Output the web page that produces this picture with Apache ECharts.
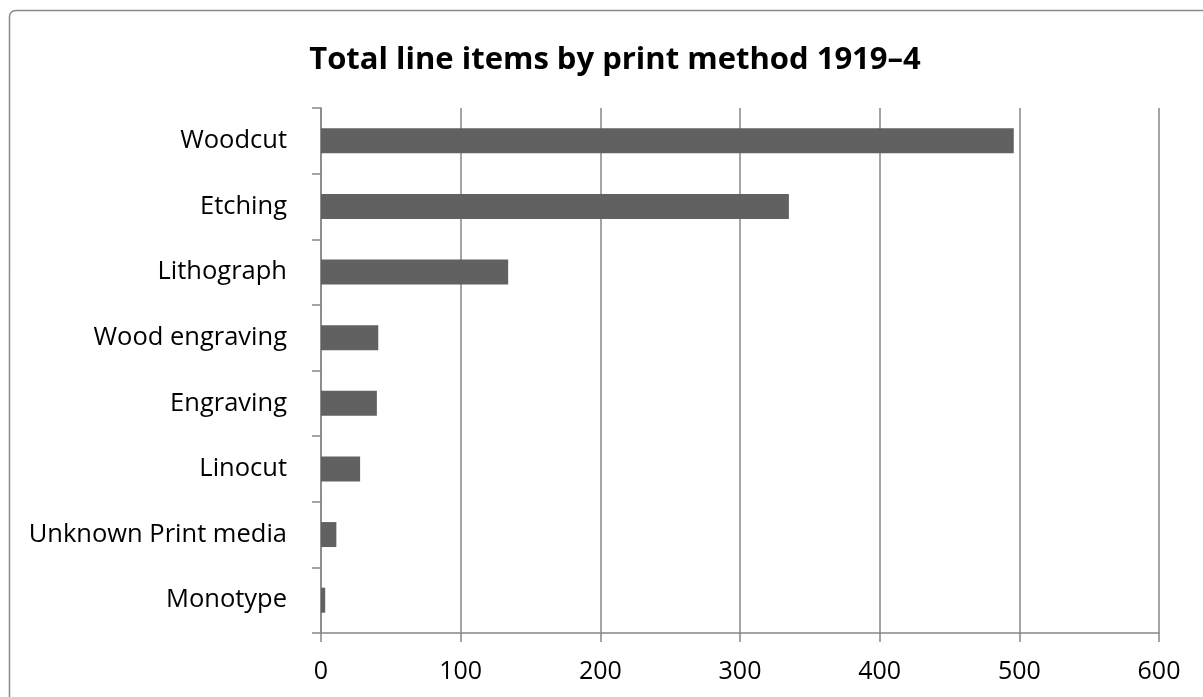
<!DOCTYPE html>
<html>
<head>
<meta charset="utf-8">
<script src="https://cdn.jsdelivr.net/npm/echarts@6/dist/echarts.min.js"></script>
<style>
html,body{margin:0;padding:0;background:#fff;}
#chart{width:1203px;height:697px;}
</style>
</head>
<body>
<div id="chart"></div>
<script>
const titleText = 'Total line items by print method 1919–4';
const categories = ['Woodcut','Etching','Lithograph','Wood engraving','Engraving','Linocut','Unknown Print media','Monotype'];
const values = [496, 335, 134, 41, 40, 28, 11, 3];
const xTicks = [0, 100, 200, 300, 400, 500, 600];

const chart = echarts.init(document.getElementById('chart'), null, {renderer:'canvas'});
const font = '"Open Sans", sans-serif';
chart.setOption({
  animation: false,
  backgroundColor: '#ffffff',
  graphic: [{
    type: 'rect', silent: true, z: -1,
    shape: {x: 9.5, y: 10.5, width: 1400, height: 900, r: 6},
    style: {fill: 'none', stroke: '#8a8a8a', lineWidth: 1.5}
  }],
  title: {
    text: titleText,
    left: 610, top: 40, textAlign: 'center',
    textStyle: {fontFamily: font, fontWeight: 'bold', fontSize: 31, color: '#000'}
  },
  grid: {left: 321, right: 44, top: 108, bottom: 64, containLabel: false},
  xAxis: {
    type: 'value', min: xTicks[0], max: xTicks[xTicks.length-1], interval: 100,
    axisLine: {show: true, lineStyle: {color: '#868686', width: 1.5}},
    axisTick: {show: true, length: 9, lineStyle: {color: '#868686', width: 1.5}},
    axisLabel: {fontFamily: font, fontSize: 25, color: '#000', margin: 26},
    splitLine: {show: true, lineStyle: {color: '#868686', width: 1.5}}
  },
  yAxis: {
    type: 'category', data: categories, inverse: true,
    axisLine: {show: true, lineStyle: {color: '#868686', width: 1.5}},
    axisTick: {show: true, length: 9, alignWithLabel: false, lineStyle: {color: '#868686', width: 1.5}},
    axisLabel: {fontFamily: font, fontSize: 25.5, color: '#000', margin: 34},
    splitLine: {show: false}
  },
  series: [{
    type: 'bar', data: values, barWidth: 25,
    itemStyle: {color: '#616161'}
  }]
});
</script>
</body>
</html>
